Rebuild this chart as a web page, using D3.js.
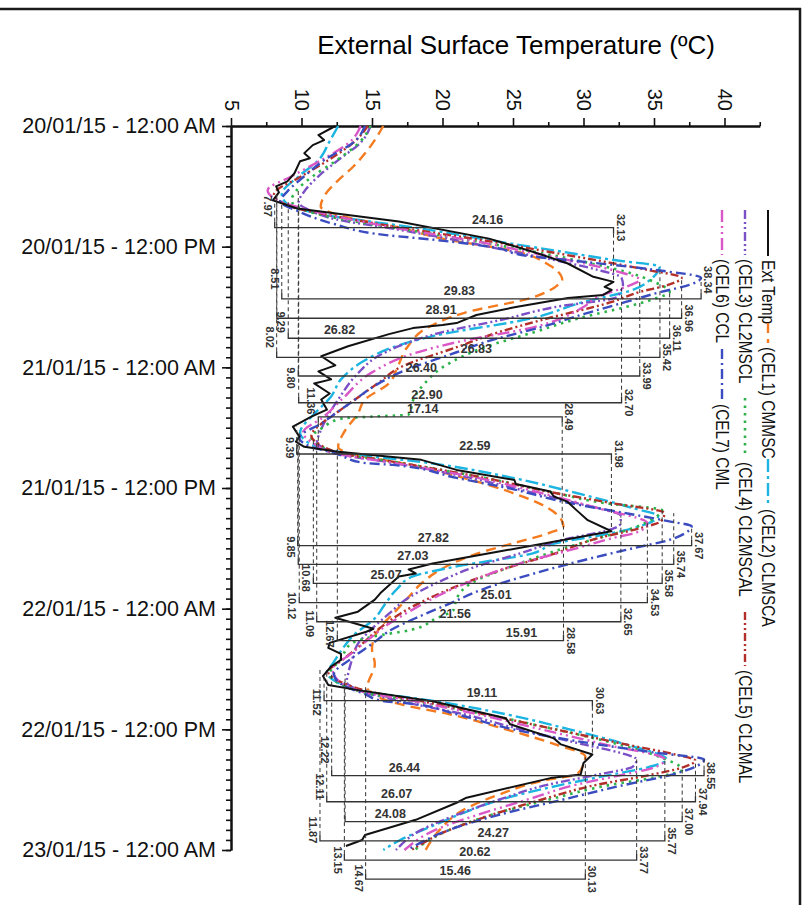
<!DOCTYPE html>
<html>
<head>
<meta charset="utf-8">
<script src="https://cdn.jsdelivr.net/npm/d3@7"></script>
<style>
  body { margin: 0; background: #fff; }
  text { font-family: "Liberation Sans", Arial, sans-serif; }
</style>
</head>
<body>
<script>
// axis ticks and labels
const tempTicks = [5, 10, 15, 20, 25, 30, 35, 40];
const timeTicks = [0, 12, 24, 36, 48, 60, 72];
const timeLabels = ["20/01/15 - 12:00 AM", "20/01/15 - 12:00 PM", "21/01/15 - 12:00 AM",
  "21/01/15 - 12:00 PM", "22/01/15 - 12:00 AM", "22/01/15 - 12:00 PM", "23/01/15 - 12:00 AM"];

// series: [hour from 20/01 00:00, temperature]
const extTemp = [[0,12.4],[0.9,11.2],[1.4,11.6],[1.9,10.8],[2.7,10.2],[3.2,10.6],[3.5,9.9],[4.7,9.5],[5.5,9.0],[6.0,8.2],[6.6,8.4],[7.4,7.97],[8.2,9.7],[9.5,16.9],[11.2,23.3],[12.5,26.4],[13.65,28.85],[15.0,30.7],[15.5,32.13],[16.0,31.5],[16.3,32.0],[16.8,31.4],[17.1,28.9],[18.0,25.2],[18.8,22.4],[19.6,21.0],[19.8,20.0],[20.1,17.9],[20.7,16.2],[21.9,13.3],[22.9,11.4],[23.8,12.4],[24.4,11.2],[25.2,12.1],[25.6,10.9],[26.6,12.0],[27.2,11.4],[28.2,11.8],[28.9,10.7],[29.9,9.39],[30.9,9.85],[31.4,9.6],[31.9,10.2],[32.4,12.6],[33.2,18.5],[34.2,21.0],[35.2,25.1],[35.6,25.2],[36.35,27.65],[36.85,27.9],[37.35,28.85],[38.2,29.5],[39.2,30.3],[40.3,31.98],[41.1,28.85],[42.3,24.1],[43.5,19.3],[44.1,17.6],[44.5,18.1],[44.8,16.9],[46.45,15.6],[47.1,15.2],[48.3,14.0],[48.9,12.4],[50.0,15.1],[50.3,14.6],[51.4,12.0],[51.9,11.9],[52.5,12.8],[53.1,12.8],[53.75,12.1],[54.7,11.52],[55.6,11.9],[56.1,14.0],[57.2,19.3],[58.9,24.5],[59.5,24.8],[60.9,27.9],[61.5,28.4],[62.5,30.63],[63.35,30.0],[64.5,29.8],[64.85,27.65],[66.8,21.7],[67.3,21.0],[69.0,18.1],[70.5,14.5],[71.0,14.3],[71.6,13.15]];

const cel1 = [[0,15.8],[2,14.9],[4,13.7],[5.4,12.6],[7,11.6],[8.0,11.36],[9,13],[10.1,16.9],[11.2,20],[12.5,25.3],[13.9,27.65],[15.3,28.49],[16,28],[17,26.5],[18.6,21.5],[20,19],[22,17.5],[24,16.8],[25.6,16.2],[27.2,14.5],[28.6,14.0],[30.5,13],[31.9,12.6],[32.6,13.5],[33.5,17],[35,21.5],[36.5,25],[38,27.5],[39.8,28.58],[40.5,27.5],[41.5,25],[42.5,22.5],[44,20],[45.5,18.5],[47,17.5],[48.5,16.5],[50,15.5],[52,15],[53.5,15.2],[55.8,14.67],[56.5,15],[57.5,17],[58.5,20.5],[60,24.5],[61.5,28],[62.7,30.13],[63.5,30],[64.5,29.5],[65,27.5],[66.5,24],[68,21.5],[70,19.8],[72,18.8]];

const cel2 = [[0,12.6],[1.5,12.0],[3.4,11.2],[5,9.8],[6.8,8.6],[7.8,9.0],[8.8,11.5],[10.1,18.0],[11.5,24.0],[12.5,28.5],[13.3,32.0],[14.0,35.4],[15.2,34.8],[16.3,33.5],[17.5,30],[19.1,26.4],[20.9,19.3],[22,16.5],[23.3,14.5],[25.2,12.8],[26.9,12.1],[28.5,11.0],[30.5,9.9],[31.5,10.5],[32.6,13.5],[33.5,19],[35,25],[36.5,29.5],[38,33.5],[38.8,35.3],[39.8,34.0],[40.5,32],[41.5,28],[42.5,26.4],[43.8,21],[44.8,17.9],[46,16.8],[47.4,16.0],[49.1,15.1],[50.5,13.8],[52,12.9],[53.5,12.2],[54.3,11.8],[55.3,12.5],[56.2,14.5],[57.2,19.5],[58.5,24.5],[60,29],[61.5,33],[63.0,35.9],[63.8,34.5],[64.5,32],[65.5,28.5],[67,24.1],[68.3,21.5],[69.6,19.3],[71,17],[72,15.8]];

const cel3 = [[0,14.9],[1.5,14.3],[3.4,12.6],[5,11.2],[6.5,10.2],[7.6,9.8],[8.5,10.8],[9.3,12.5],[10.1,16.0],[11.5,21.5],[12.5,25],[13.5,28.5],[14.3,31],[15.1,32.7],[15.8,32.8],[16.5,32.6],[17.0,32.4],[18,28],[19.3,24.1],[20.5,20],[21.9,16.9],[23,15.3],[24.6,14.0],[27.2,12.6],[29,11.8],[30.5,11.3],[31.4,11.1],[32,11.5],[32.6,12.5],[33.5,16.5],[35,22],[36.5,26.5],[37.5,29.5],[38.8,32.65],[39.6,32.6],[40.3,31.5],[41,29],[42.5,25.5],[44,22],[45.5,19.5],[47,17.5],[48.5,16.2],[50,15],[51.5,14],[53,13.6],[54.5,13.3],[55.3,13.2],[56.3,14.5],[57.2,17],[58.5,21.5],[60,25.5],[61.5,30],[62.3,32.5],[63,33.77],[63.7,33.5],[64.5,31],[65.5,27.5],[67,24],[68.5,21],[70,18.5],[72,16.7]];

const cel4 = [[0,14.9],[1.5,14.2],[3.4,12.5],[5,10.8],[6.5,9.6],[7.4,9.29],[8.5,10.5],[9.3,13],[10.1,16.5],[11.5,22.5],[12.5,26.5],[13.5,30],[14.5,33],[15.5,35],[16.5,36.11],[17.2,35],[18,33],[19,30],[20.5,26.5],[22,23],[24,20],[25.5,18.8],[27,18.0],[28.7,17.6],[28.9,15],[29.1,12.8],[30,11.5],[31,10.7],[31.8,11.3],[32.6,13.0],[33.5,17],[35,23],[36.5,28],[37.5,31.5],[38.2,35.58],[39,35],[40,33.5],[41,31],[42.5,27.5],[44,24.5],[45.5,22],[47,21],[48.1,20.8],[49,19.5],[50.1,17.8],[50.8,15],[51.5,13.5],[53,12.8],[54.5,12.0],[55.3,12.5],[56.5,15],[57.2,18],[58.5,23],[60,28],[61.5,32.5],[62.8,35.5],[64,37.0],[64.8,35],[65.5,32],[67,27.5],[68.5,23.5],[70,20.5],[72,18]];

const cel5 = [[0,14.7],[1.5,13.8],[3.4,11.9],[5,10.0],[6.8,8.05],[8,9.2],[9,12.5],[10.1,17.0],[11.5,23.5],[12.5,27.5],[13.5,31.5],[14.3,34.5],[15.1,36.96],[15.8,36.0],[16.5,34],[17.5,32],[19.3,27],[20.5,24],[22,21],[24,17],[25.5,15.5],[27,14],[28.5,12.5],[29.5,11.5],[30.8,10.7],[31.6,11.2],[32.6,13.0],[33.5,17],[35,23],[36.5,28],[37.5,32],[38.5,35.74],[39.3,35.5],[40,34],[41,31],[42.5,28],[44,24.5],[45.5,21.5],[47,19],[48.5,17],[50,15.5],[51.5,14.3],[53,13],[54.3,11.9],[55.3,12.8],[56.3,15],[57.2,18.5],[58.5,23],[60,28],[61.5,33],[62.5,36.5],[63.1,37.94],[63.8,37],[64.6,34.5],[65.5,31],[67,27],[68.5,23.5],[70,20.5],[72,17.8]];

const cel6 = [[0,14.2],[1.5,13.5],[3.4,11.4],[5,9.3],[6.4,7.6],[7.5,8.5],[8.5,11],[10.1,16.5],[11.5,22.5],[12.5,26],[13.5,29.5],[14.5,32.5],[15.3,33.99],[16,33],[17,31],[18,30],[20,26.5],[21.5,21],[22.6,18],[24.5,15],[27,13],[29,11.5],[30.5,10.1],[31.5,10.8],[32.6,12.5],[33.5,16.5],[35,22.5],[36.5,27],[38,31],[39.5,34.53],[40.3,34],[41,32],[42,29.5],[43.5,25.5],[45,22.5],[46.5,20],[48,18],[49.5,16.2],[51,14.8],[52.5,13.5],[54,12.2],[55,12.5],[56.3,14.5],[57.2,18],[58.5,22.5],[60,27],[61.5,31.5],[63,35.77],[63.8,35],[64.6,32.5],[65.5,29.5],[67,26],[68.5,22.5],[70,19.5],[72,17.3]];

const cel7 = [[0,14.5],[1.5,13.8],[3.4,11.6],[5,10.2],[6.5,9.0],[7.5,8.5],[8.5,9.8],[9.7,12.2],[10.85,16.0],[11.3,19.3],[12.2,24.1],[12.8,25.5],[13.5,30],[14.3,35],[15.1,38.34],[15.8,37.5],[16.5,35.5],[17.5,33],[18.5,30.5],[20,27],[21.5,23],[22.5,21],[24.5,17],[26,15],[27,14],[28.5,12.5],[29.5,11.5],[31,9.85],[31.8,10.5],[32.6,12.5],[33.5,14.4],[33.7,16.5],[35,21],[36,24.6],[37.5,29],[38.5,33],[39.3,36],[39.8,37.67],[40.5,37.2],[41.2,36],[42,33.5],[43,30.5],[44.5,26.5],[46,23],[47.5,20.5],[49,18],[50,16.5],[51.5,15],[53,13.5],[54.5,12.3],[55.5,12.8],[56.5,14.5],[57.2,15.8],[57.4,17.5],[58.5,21],[60,25],[61.5,31],[62.3,35],[63.0,38.55],[63.8,37.8],[64.6,36],[65.5,33],[67,28.5],[68.5,24],[70,20.5],[72,17.5]];

const seriesKeys = ["ext", "cel1", "cel2", "cel3", "cel4", "cel5", "cel6", "cel7"];
const seriesNames = ["Ext Temp", "(CEL1) CMMSC", "(CEL2) CLMSCA", "(CEL3) CL2MSCL",
  "(CEL4) CL2MSCAL", "(CEL5) CL2MAL", "(CEL6) CCL", "(CEL7) CML"];
const seriesData = [extTemp, cel1, cel2, cel3, cel4, cel5, cel6, cel7];

// daily range notes: hour of the bracket, low / high temperature, range label
const dayRanges = [
  {s: "ext",  h: 10.11, lo: 8.1,   hi: 32.13, diff: "24.16", at: 23.2, loText: "7.97",  loAt: 7.96},
  {s: "cel7", h: 17.2,  lo: 8.6,   hi: 38.34, diff: "29.83", at: 21.2, loText: "8.51",  loAt: 15.2, hiAt: 15.3},
  {s: "cel5", h: 19.12, lo: 8.25,  hi: 36.96, diff: "28.91", at: 19.9},
  {s: "cel4", h: 21.11, lo: 9.06,  hi: 36.11, diff: "26.82", at: 12.7, loText: "9.29",  loAt: 19.5},
  {s: "cel2", h: 23.0,  lo: 8.24,  hi: 35.42, diff: "26.83", at: 22.4, loText: "8.02",  loAt: 21.0},
  {s: "cel6", h: 24.86, lo: 9.77,  hi: 33.99, diff: "26.40", at: 18.5, loText: "9.80",  loAt: 25.06},
  {s: "cel3", h: 27.52, lo: 9.8,   hi: 32.70, diff: "22.90", at: 18.9},
  {s: "cel1", h: 28.92, lo: 11.19, hi: 28.49, diff: "17.14", at: 18.6, loText: "11.36", loAt: 27.35},
  {s: "ext",  h: 32.62, lo: 9.66,  hi: 31.98, diff: "22.59", at: 22.3, loText: "9.39",  loAt: 32.0},
  {s: "cel7", h: 41.74, lo: 9.73,  hi: 37.67, diff: "27.82", at: 19.35, loText: "9.85", loAt: 41.87},
  {s: "cel5", h: 43.59, lo: 9.77,  hi: 36.4,  diff: "27.03", at: 17.9, hiText: "35.74"},
  {s: "cel4", h: 45.48, lo: 10.84, hi: 35.58, diff: "25.07", at: 16.0, loText: "10.68", loAt: 44.95},
  {s: "cel6", h: 47.4,  lo: 9.84,  hi: 34.53, diff: "25.01", at: 23.8, loText: "10.12", loAt: 47.7},
  {s: "cel3", h: 49.3,  lo: 11.08, hi: 32.65, diff: "21.56", at: 20.9, loText: "11.09", loAt: 49.5},
  {s: "cel1", h: 51.18, lo: 12.54, hi: 28.58, diff: "15.91", at: 25.6, loText: "12.67", loAt: 50.5},
  {s: "ext",  h: 57.15, lo: 11.6,  hi: 30.63, diff: "19.11", at: 22.8, loText: "11.52", loAt: 57.3},
  {s: "cel7", h: 64.61, lo: 12.14, hi: 38.55, diff: "26.44", at: 17.3, loText: "12.22", loAt: 62.05},
  {s: "cel5", h: 67.2,  lo: 11.79, hi: 37.94, diff: "26.07", at: 16.75, loText: "12.11", loAt: 65.7},
  {s: "cel4", h: 69.18, lo: 13.09, hi: 37.00, diff: "24.08", at: 16.3},
  {s: "cel6", h: 71.1,  lo: 11.31, hi: 35.77, diff: "24.27", at: 23.6, loText: "11.87", loAt: 70.0},
  {s: "cel3", h: 73.0,  lo: 13.04, hi: 33.77, diff: "20.62", at: 22.3, loText: "13.15", loAt: 73.0},
  {s: "cel1", h: 74.9,  lo: 14.55, hi: 30.13, diff: "15.46", at: 20.9, loText: "14.67", loAt: 74.8}
];

// styles
const styles = {
  ext:  {color: "#111111", dash: null,               width: 2},
  cel1: {color: "#f47b20", dash: "10,6",             width: 2.4},
  cel2: {color: "#1cb4e0", dash: "13,4,3,4",         width: 2.4},
  cel3: {color: "#7b4fc6", dash: "9,3,2,3,2,3",      width: 2.4},
  cel4: {color: "#2cb34a", dash: "2.5,5",            width: 2.6},
  cel5: {color: "#b3302a", dash: "8,3,2,3,2,3",      width: 2.4},
  cel6: {color: "#d957c6", dash: "12,4,2,4,2,4",     width: 2.4},
  cel7: {color: "#3b4cc0", dash: "10,4,2,4",         width: 2.4}
};

const W = 805, H = 905;
const svg = d3.select("body").append("svg")
  .attr("width", W)
  .attr("height", H);

// frame
svg.append("line").attr("x1", 0).attr("x2", 801).attr("y1", 9).attr("y2", 9)
  .attr("stroke", "#1a1a1a").attr("stroke-width", 2.5);
svg.append("line").attr("x1", 800).attr("x2", 800).attr("y1", 8).attr("y2", H)
  .attr("stroke", "#1a1a1a").attr("stroke-width", 2.5);

const x = d3.scaleLinear().domain([5, 42.5]).range([231, 759.75]);
const y = d3.scaleLinear().domain([0, 72]).range([126, 850]);

// title
svg.append("text")
  .attr("x", 516).attr("y", 54)
  .attr("text-anchor", "middle")
  .attr("font-size", 26)
  .text("External Surface Temperature (ºC)");

// temperature axis (top)
const xMinor = svg.append("g").attr("transform", `translate(0,${y(0)})`)
  .call(d3.axisTop(x).tickValues(d3.range(7.5, 43, 5)).tickSize(4).tickSizeOuter(0).tickFormat(""));
const xAxis = svg.append("g").attr("transform", `translate(0,${y(0)})`)
  .call(d3.axisTop(x).tickValues(tempTicks).tickSize(8).tickSizeOuter(0).tickFormat(d3.format("d")));
xAxis.selectAll(".tick text")
  .attr("transform", "rotate(90)")
  .attr("x", -15).attr("y", 0).attr("dy", "0.35em")
  .attr("text-anchor", "end")
  .attr("font-size", 20)
  .attr("fill", "#111")
  .style("font-family", "'Liberation Sans', Arial, sans-serif");

// time axis (left)
const yMinor = svg.append("g").attr("transform", `translate(${x(5)},0)`)
  .call(d3.axisLeft(y).tickValues(d3.range(0, 73, 1)).tickSize(5).tickSizeOuter(0).tickFormat(""));
const yAxis = svg.append("g").attr("transform", `translate(${x(5)},0)`)
  .call(d3.axisLeft(y).tickValues(timeTicks).tickSize(9).tickSizeOuter(0)
    .tickFormat((d, i) => timeLabels[i]));
yAxis.selectAll(".tick text")
  .attr("x", -15)
  .attr("font-size", 21.5)
  .attr("fill", "#111")
  .style("font-family", "'Liberation Sans', Arial, sans-serif");

[xMinor, xAxis, yMinor, yAxis].forEach(g => {
  g.selectAll("path, line").attr("stroke", "#111").attr("stroke-width", 1.6);
  g.select(".domain").attr("stroke-width", 2);
});

// series lines
const plot = svg.append("g");
seriesKeys.slice(1).concat(["ext"]).forEach(key => {
  const i = seriesKeys.indexOf(key);
  const st = styles[key];
  const line = d3.line()
    .x(d => x(d[1]))
    .y(d => y(d[0]))
    .curve(key === "ext" ? d3.curveLinear : d3.curveMonotoneY);
  plot.append("path")
    .datum(seriesData[i])
    .attr("fill", "none")
    .attr("stroke", st.color)
    .attr("stroke-width", st.width)
    .attr("stroke-dasharray", st.dash)
    .attr("stroke-linejoin", "round")
    .attr("d", line);
});

// hour of a series' daily low / high
function extremeHour(key, hour, kind) {
  const data = seriesData[seriesKeys.indexOf(key)];
  const day = Math.floor((hour - 4) / 24);
  const win = kind === "lo" ? [24 * day + 3, 24 * day + 13] : [24 * day + 12, 24 * day + 20];
  const pts = data.filter(d => d[0] >= win[0] && d[0] <= win[1]);
  const best = kind === "lo" ? d3.least(pts, d => d[1]) : d3.greatest(pts, d => d[1]);
  return best[0];
}

// daily range brackets
const notes = svg.append("g");
dayRanges.forEach(r => {
  const yb = y(r.h);
  const xl = x(r.lo), xr = x(r.hi);
  const yl = y(extremeHour(r.s, r.h, "lo"));
  const yr = y(extremeHour(r.s, r.h, "hi"));
  const tick = 6;
  const sl = yl < yb ? -tick : tick;
  const sr = yr < yb ? -tick : tick;
  notes.append("path")
    .attr("d", `M${xl},${yb + sl}V${yb}H${xr}V${yb + sr}`)
    .attr("fill", "none").attr("stroke", "#333").attr("stroke-width", 1.3);
  notes.append("line")
    .attr("x1", xl).attr("x2", xl).attr("y1", yb + sl).attr("y2", yl)
    .attr("stroke", "#333").attr("stroke-width", 1).attr("stroke-dasharray", "4,3");
  notes.append("line")
    .attr("x1", xr).attr("x2", xr).attr("y1", yb + sr).attr("y2", yr)
    .attr("stroke", "#333").attr("stroke-width", 1).attr("stroke-dasharray", "4,3");
  notes.append("text")
    .attr("x", x(r.at)).attr("y", yb - 4)
    .attr("text-anchor", "middle")
    .attr("font-size", 12.5).attr("font-weight", "bold").attr("fill", "#333")
    .text(r.diff);
  notes.append("text")
    .attr("transform", `translate(${xr + 7},${y(r.hiAt ?? r.h)}) rotate(90)`)
    .attr("dy", "0.35em")
    .attr("text-anchor", "middle")
    .attr("font-size", 11).attr("font-weight", "bold").attr("fill", "#333")
    .text(r.hiText ?? r.hi.toFixed(2));
  if (r.loText) {
    notes.append("text")
      .attr("transform", `translate(${xl - 7},${y(r.loAt)}) rotate(90)`)
      .attr("dy", "0.35em")
      .attr("text-anchor", "middle")
      .attr("font-size", 11).attr("font-weight", "bold").attr("fill", "#333")
      .text(r.loText);
  }
});

// legend (rotated, reads top to bottom): sample start/end
const legendLayout = [
  {x: 768, items: [["ext", 210, 256], ["cel1", 323, 343], ["cel2", 459, 505]]},
  {x: 745, items: [["cel3", 210, 255], ["cel4", 398, 458], ["cel5", 612, 666]]},
  {x: 722, items: [["cel6", 210, 255], ["cel7", 349, 400]]}
];
legendLayout.forEach(row => {
  row.items.forEach(([key, y0, y1]) => {
    const st = styles[key];
    svg.append("line")
      .attr("x1", row.x).attr("x2", row.x).attr("y1", y0).attr("y2", y1)
      .attr("stroke", st.color).attr("stroke-width", st.width)
      .attr("stroke-dasharray", st.dash);
    svg.append("text")
      .attr("transform", `translate(${row.x},${y1 + 4}) rotate(90) scale(0.86,1)`)
      .attr("dy", "0.35em")
      .attr("font-size", 18)
      .attr("fill", "#111")
      .text(seriesNames[seriesKeys.indexOf(key)]);
  });
});
</script>
</body>
</html>
